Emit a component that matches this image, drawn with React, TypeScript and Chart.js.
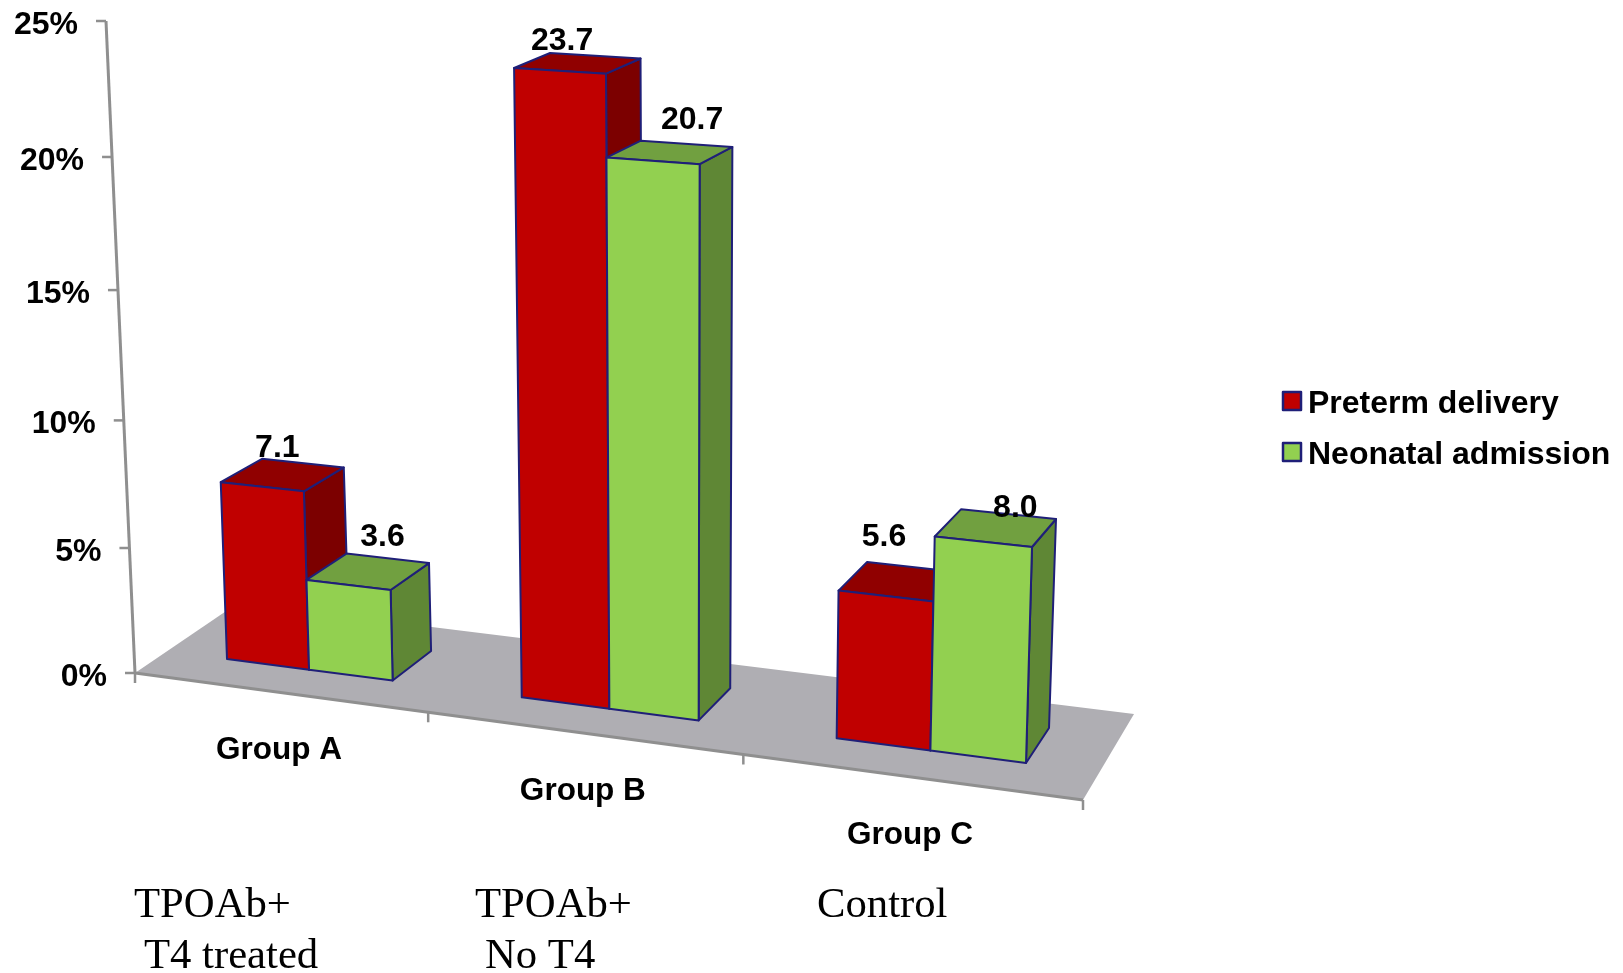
import React, { useEffect, useRef } from "react";
import { Chart, registerables } from "chart.js";

Chart.register(...registerables);

// Chart values
const groups = ["Group A", "Group B", "Group C"];
const pretermDelivery = [7.1, 23.7, 5.6];
const neonatalAdmission = [3.6, 20.7, 8.0];
const seriesNames = ["Preterm delivery", "Neonatal admission"];
const valueMax = 25;
const valueStep = 5;

// Captions written under the groups, one list per line
const captionLine1 = ["TPOAb+", "TPOAb+", "Control"];
const captionLine2 = ["T4 treated", "No T4", ""];

// Palette
const frontColors = ["#C00000", "#92D050"];
const topColors = ["#900000", "#71A040"];
const sideColors = ["#7C0000", "#5F8735"];
const edgeColor = "#1F1F78";
const floorColor = "#AFAEB3";
const axisColor = "#8F8F8F";

const sansBold = "bold 32px 'Liberation Sans'";
const groupFont = "bold 31.5px 'Liberation Sans'";
const serif = "42.7px 'Liberation Serif'";

type Pt = [number, number];
type Anchor = { from: Pt; to: Pt };

// Perspective planes: each is fixed by four (position, value fraction) -> canvas pairs.
const frontPlane: Anchor[] = [
  { from: [0, 0], to: [227, 659] },
  { from: [1, 0], to: [1026, 763] },
  { from: [1, 8 / 25], to: [1032, 547] },
  { from: [0.389, 23.7 / 25], to: [514, 68] },
];
const backPlane: Anchor[] = [
  { from: [0.2217, 0], to: [431, 651] },
  { from: [1, 0], to: [1049, 728] },
  { from: [1, 8 / 25], to: [1056, 519] },
  { from: [0.389, 23.7 / 25], to: [550, 53] },
];
const axisPlane: Anchor[] = [
  { from: [0, 0], to: [135, 673] },
  { from: [1, 0], to: [1083, 800] },
  { from: [0, 1], to: [106, 21] },
  { from: [1, 1], to: [1108, 75] },
];
const floorBackLeft: Pt = [238, 603];
const floorBackRight: Pt = [1134, 714];

// Offset of each value label from the middle of its bar's front top edge
const labelNudges: Pt[][] = [
  [[15, -39], [2, -30], [-2, -59]],
  [[34, -48], [39, -41], [32, -34]],
];

// Where the caption columns start and where their two lines sit
const captionX = [134, 475, 817];
const captionIndent = 10;
const captionY = [906, 957];

// Legend block
const legendLeft = 1283;
const legendTop = 392;
const legendBox = 18;
const legendRow = 51;
const legendTextGap = 7;

function solve(a: number[][], b: number[]): number[] {
  const n = b.length;
  const m = a.map((row, i) => [...row, b[i]]);
  for (let c = 0; c < n; c++) {
    let p = c;
    for (let r = c + 1; r < n; r++) if (Math.abs(m[r][c]) > Math.abs(m[p][c])) p = r;
    [m[c], m[p]] = [m[p], m[c]];
    for (let r = 0; r < n; r++) {
      if (r === c) continue;
      const f = m[r][c] / m[c][c];
      for (let k = c; k <= n; k++) m[r][k] -= f * m[c][k];
    }
  }
  return m.map((row, i) => row[n] / row[i]);
}

// Projective map from a plane's (u, t) coordinates to canvas pixels
function homography(anchors: Anchor[]) {
  const a: number[][] = [];
  const b: number[] = [];
  for (const { from: [u, t], to: [x, y] } of anchors) {
    a.push([u, t, 1, 0, 0, 0, -u * x, -t * x]);
    b.push(x);
    a.push([0, 0, 0, u, t, 1, -u * y, -t * y]);
    b.push(y);
  }
  const h = solve(a, b);
  return (u: number, t: number): Pt => {
    const w = h[6] * u + h[7] * t + 1;
    return [(h[0] * u + h[1] * t + h[2]) / w, (h[3] * u + h[4] * t + h[5]) / w];
  };
}

const front = homography(frontPlane);
const back = homography(backPlane);
const axis = homography(axisPlane);

function poly(ctx: CanvasRenderingContext2D, pts: Pt[], fill: string | null, stroke: string | null, lw = 2) {
  ctx.beginPath();
  pts.forEach(([x, y], i) => (i ? ctx.lineTo(x, y) : ctx.moveTo(x, y)));
  if (fill) {
    ctx.closePath();
    ctx.fillStyle = fill;
    ctx.fill();
  }
  if (stroke) {
    ctx.strokeStyle = stroke;
    ctx.lineWidth = lw;
    ctx.lineJoin = "round";
    ctx.stroke();
  }
}

// Replaces the flat bar drawing with the boxed perspective view
const perspectivePlugin = {
  id: "perspective",
  beforeDatasetsDraw(chart: any) {
    const { ctx, chartArea: area, scales } = chart;
    const xs = scales.x;
    const ys = scales.y;
    const metas = [chart.getDatasetMeta(0), chart.getDatasetMeta(1)];
    const first = metas[0].data[0].getProps(["x", "width"], true);
    const last = metas[1].data[metas[1].data.length - 1].getProps(["x", "width"], true);
    const spanL = first.x - first.width / 2;
    const spanR = last.x + last.width / 2;
    const toU = (px: number) => (px - spanL) / (spanR - spanL);
    const toT = (px: number) => ys.getValueForPixel(px) / valueMax;
    const toS = (px: number) => (px - area.left) / (area.right - area.left);
    const axisBottom = (s: number) => axis(s, 0);

    ctx.save();

    // Floor
    poly(ctx, [axisBottom(0), floorBackLeft, floorBackRight, axisBottom(1)], floorColor, null);

    // Category axis with boundary ticks
    poly(ctx, [axisBottom(0), axisBottom(1)], null, axisColor, 3);
    const count = groups.length;
    for (let i = 0; i <= count; i++) {
      const [x, y] = axisBottom(i / count);
      poly(ctx, [[x, y], [x, y + 10]], null, axisColor, 2.5);
    }

    // Value axis, ticks and their labels
    poly(ctx, [axis(0, 0), axis(0, 1)], null, axisColor, 3);
    ctx.font = sansBold;
    ctx.fillStyle = "#000";
    ctx.textAlign = "right";
    ctx.textBaseline = "middle";
    for (const tick of ys.ticks) {
      const t = toT(ys.getPixelForValue(tick.value));
      const [x, y] = axis(0, t);
      poly(ctx, [[x, y], [x - 10, y]], null, axisColor, 2.5);
      ctx.fillStyle = "#000";
      ctx.fillText(tick.label, x - 28, y + 4);
    }

    // Boxes, drawn group by group so nearer faces cover farther ones
    const labels: { text: string; at: Pt }[] = [];
    groups.forEach((_, g) => {
      metas.forEach((meta, d) => {
        const el = meta.data[g].getProps(["x", "y", "base", "width"], true);
        const uL = toU(el.x - el.width / 2);
        const uR = toU(el.x + el.width / 2);
        const tTop = toT(el.y);
        const tBase = toT(el.base);
        const fTL = front(uL, tTop);
        const fTR = front(uR, tTop);
        const fBL = front(uL, tBase);
        const fBR = front(uR, tBase);
        const bTL = back(uL, tTop);
        const bTR = back(uR, tTop);
        const bBR = back(uR, tBase);
        poly(ctx, [fTR, bTR, bBR, fBR], sideColors[d], edgeColor);
        poly(ctx, [fTL, bTL, bTR, fTR], topColors[d], edgeColor);
        poly(ctx, [fTL, fTR, fBR, fBL], frontColors[d], edgeColor);
        const nudge = labelNudges[d][g];
        labels.push({
          text: chart.data.datasets[d].data[g].toFixed(1),
          at: [(fTL[0] + fTR[0]) / 2 + nudge[0], (fTL[1] + fTR[1]) / 2 + nudge[1]],
        });
      });
    });

    // Value labels
    ctx.font = sansBold;
    ctx.fillStyle = "#000";
    ctx.textAlign = "center";
    ctx.textBaseline = "middle";
    labels.forEach(({ text, at }) => ctx.fillText(text, at[0], at[1]));

    // Group names below the category axis
    ctx.font = groupFont;
    groups.forEach((_, i) => {
      const [x, y] = axisBottom(toS(xs.getPixelForTick(i)));
      ctx.fillText(xs.getLabelForValue(i), x, y + 58);
    });

    // Captions
    ctx.font = serif;
    ctx.textAlign = "left";
    captionLine1.forEach((text, i) => ctx.fillText(text, captionX[i], captionY[0]));
    captionLine2.forEach((text, i) => ctx.fillText(text, captionX[i] + captionIndent, captionY[1]));

    // Legend
    chart.data.datasets.forEach((ds: any, i: number) => {
      const top = legendTop + i * legendRow;
      ctx.fillStyle = ds.backgroundColor;
      ctx.strokeStyle = ds.borderColor;
      ctx.lineWidth = ds.borderWidth;
      ctx.fillRect(legendLeft, top, legendBox, legendBox);
      ctx.strokeRect(legendLeft, top, legendBox, legendBox);
      ctx.fillStyle = "#000";
      ctx.font = sansBold;
      ctx.fillText(ds.label, legendLeft + legendBox + legendTextGap, top + legendBox / 2 + 3);
    });

    ctx.restore();
    return false;
  },
};

export default function App() {
  const ref = useRef<HTMLCanvasElement>(null);

  useEffect(() => {
    document.body.style.margin = "0";
    const chart = new Chart(ref.current!, {
      type: "bar",
      data: {
        labels: groups,
        datasets: [
          { label: seriesNames[0], data: pretermDelivery, backgroundColor: frontColors[0], borderColor: edgeColor, borderWidth: 2.5 },
          { label: seriesNames[1], data: neonatalAdmission, backgroundColor: frontColors[1], borderColor: edgeColor, borderWidth: 2.5 },
        ],
      },
      options: {
        animation: false,
        responsive: false,
        layout: { padding: 0 },
        datasets: { bar: { categoryPercentage: 0.57, barPercentage: 1 } },
        plugins: { legend: { display: false }, tooltip: { enabled: false } },
        scales: {
          x: { display: false, type: "category" },
          y: {
            display: false,
            min: 0,
            max: valueMax,
            ticks: { stepSize: valueStep, callback: (v: any) => `${v}%` },
          },
        },
      },
      plugins: [perspectivePlugin],
    } as any);
    return () => chart.destroy();
  }, []);

  return <canvas ref={ref} width={1623} height={973} style={{ display: "block" }} />;
}
